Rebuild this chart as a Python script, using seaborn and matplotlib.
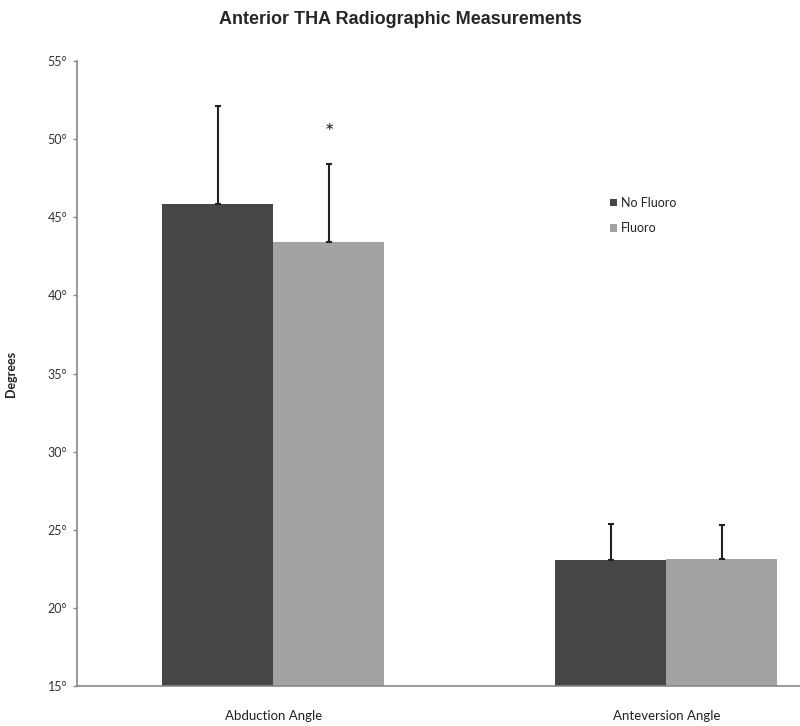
import matplotlib
matplotlib.use("Agg")
import matplotlib.pyplot as plt
import seaborn as sns
import pandas as pd
import numpy as np
from matplotlib.patches import Patch

categories = ["Abduction Angle", "Anteversion Angle"]
groups = ["No Fluoro", "Fluoro"]
no_fluoro_mean = [45.85, 23.05]
fluoro_mean = [43.4, 23.1]
no_fluoro_sd = [6.3, 2.3]
fluoro_sd = [5.0, 2.2]
yticks = [15, 20, 25, 30, 35, 40, 45, 50, 55]
ytick_labels = [f"{v}°" for v in yticks]

sns.set_style("white")
plt.rcParams['font.family'] = ['Lato', 'DejaVu Sans']

df = pd.DataFrame({
    "category": categories * 2,
    "group": [groups[0]] * 2 + [groups[1]] * 2,
    "value": no_fluoro_mean + fluoro_mean,
})
sds = {groups[0]: no_fluoro_sd, groups[1]: fluoro_sd}

fig = plt.figure(figsize=(8, 7.26), dpi=100)
ax = fig.add_axes([0.09625, 0.055, 0.90375, 0.861])

palette = {"No Fluoro": "#464646", "Fluoro": "#a3a3a3"}
sns.barplot(data=df, x="category", y="value", hue="group", order=categories,
            hue_order=groups, palette=palette, width=0.565, errorbar=None,
            saturation=1, linewidth=0, ax=ax, legend=False)

# error bars (upper only)
for container, g in zip(ax.containers, groups):
    xs = [p.get_x() + p.get_width() / 2 for p in container.patches]
    hs = [p.get_height() for p in container.patches]
    ax.errorbar(xs, hs, yerr=[np.zeros(len(hs)), sds[g]], fmt="none",
                ecolor="#222222", elinewidth=1.5, capsize=2.5, capthick=1.5, zorder=3)

# significance asterisk above Fluoro abduction bar
fp = ax.containers[1].patches[0]
ax.text(fp.get_x() + fp.get_width() / 2, fluoro_mean[0] + fluoro_sd[0] + 2.0, "*",
        ha="center", va="center", fontsize=16, color="#222222")

ax.set_ylim(15, 55)
ax.set_xlim(-0.5, 1.34)
ax.set_yticks(yticks)
ax.set_yticklabels(ytick_labels, fontsize=9, color="#333333")
ax.tick_params(axis="y", left=True, length=3, width=1, color="#888888", pad=4)
ax.tick_params(axis="x", bottom=False, labelsize=9.5, labelcolor="#222222", pad=14)
ax.set_xlabel("")
ax.set_ylabel("Degrees", fontsize=9, fontweight="bold", color="#222222", labelpad=22)

for s in ["top", "right"]:
    ax.spines[s].set_visible(False)
for s in ["left", "bottom"]:
    ax.spines[s].set_color("#888888")
    ax.spines[s].set_linewidth(1.2)

# legend
handles = [Patch(facecolor=palette[g], edgecolor="none", label=g) for g in groups]
leg = ax.legend(handles=handles, loc="upper left", bbox_to_anchor=(0.722, 0.8),
                frameon=False, fontsize=9, handlelength=0.5, handleheight=0.5,
                handletextpad=0.35, labelspacing=1.05)
for t in leg.get_texts():
    t.set_color("#222222")

fig.suptitle("Anterior THA Radiographic Measurements", x=0.5, y=0.985,
             fontsize=13, fontweight="bold", family=["Liberation Sans", "DejaVu Sans"])

fig.savefig("out.png", dpi=100)
